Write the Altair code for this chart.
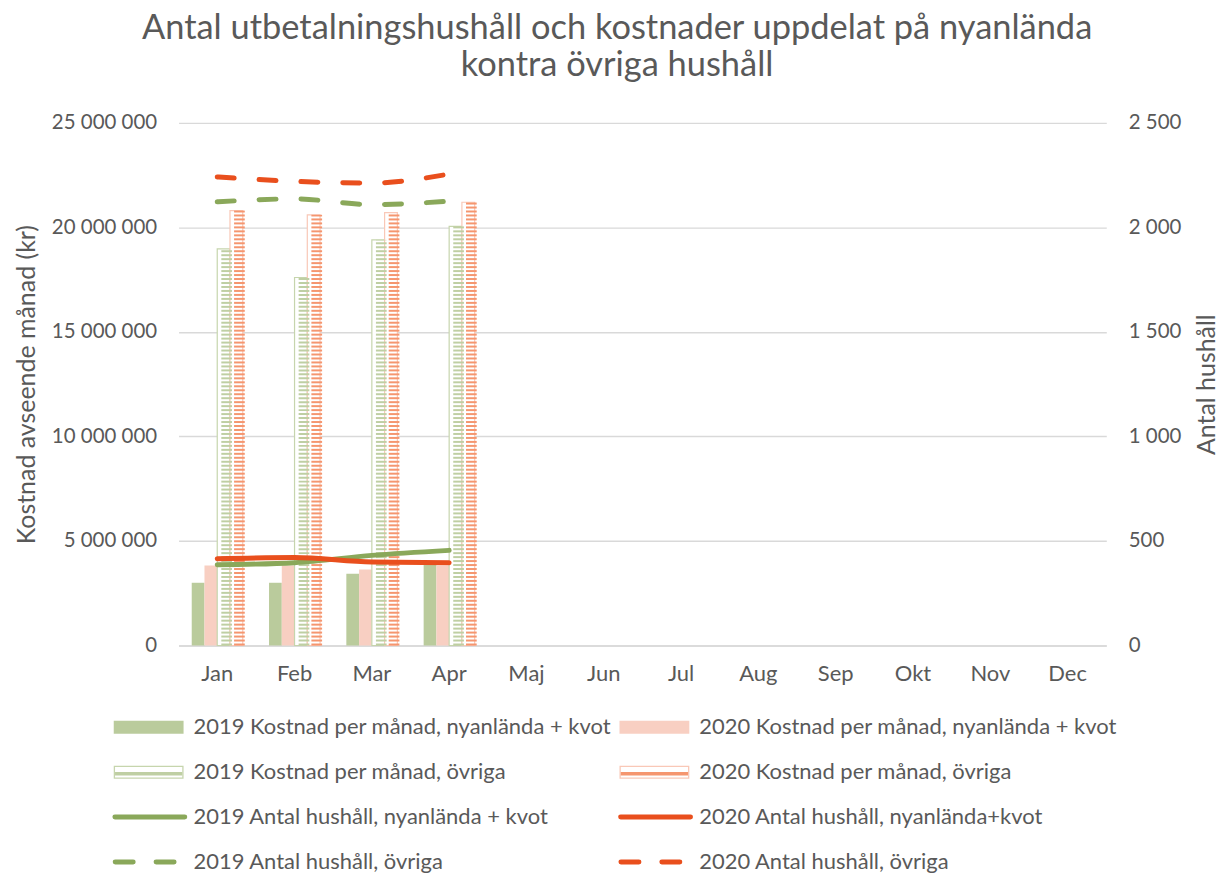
import altair as alt
import pandas as pd

months = ["Jan", "Feb", "Mar", "Apr", "Maj", "Jun", "Jul", "Aug", "Sep", "Okt", "Nov", "Dec"]
data_months = ["Jan", "Feb", "Mar", "Apr"]

cost_2019_ny = [3000000, 3000000, 3430000, 3850000]
cost_2020_ny = [3820000, 3830000, 3630000, 3820000]
cost_2019_ov = [18970000, 17600000, 19400000, 20050000]
cost_2020_ov = [20800000, 20600000, 20700000, 21200000]

hh_2019_ny = [386, 396, 431, 455]
hh_2020_ny = [415, 421, 399, 396]
hh_2019_ov = [2122, 2136, 2109, 2125]
hh_2020_ov = [2241, 2220, 2212, 2255]

bar_series = [
    "2019 Kostnad per månad, nyanlända + kvot",
    "2020 Kostnad per månad, nyanlända + kvot",
    "2019 Kostnad per månad, övriga",
    "2020 Kostnad per månad, övriga",
]
line_series = [
    "2019 Antal hushåll, nyanlända + kvot",
    "2020 Antal hushåll, nyanlända+kvot",
    "2019 Antal hushåll, övriga",
    "2020 Antal hushåll, övriga",
]

TXT = "#595959"
FONT = "Lato"
GREEN_SOLID = "#bacb9c"
PINK_SOLID = "#f8cfc2"
GREEN_STRIPE = "#bfcfa3"
GREEN_BORDER = "#c6d5ad"
ORANGE_STRIPE = "#f5966f"
ORANGE_BORDER = "#f9c8b7"
GREEN_LINE = "#8aa85a"
ORANGE_LINE = "#e94f1d"

# ---------- tables ----------
solid_rows = []
for m, a, b in zip(data_months, cost_2019_ny, cost_2020_ny):
    solid_rows.append({"month": m, "series": bar_series[0], "value": a})
    solid_rows.append({"month": m, "series": bar_series[1], "value": b})
solid_df = pd.DataFrame(solid_rows)

hatch_rows = []
for m, a, b in zip(data_months, cost_2019_ov, cost_2020_ov):
    hatch_rows.append({"month": m, "series": bar_series[2], "value": a})
    hatch_rows.append({"month": m, "series": bar_series[3], "value": b})
hatch_df = pd.DataFrame(hatch_rows)

line_rows = []
for i, m in enumerate(data_months):
    line_rows.append({"month": m, "series": line_series[0], "value": hh_2019_ny[i], "dash": "solid"})
    line_rows.append({"month": m, "series": line_series[1], "value": hh_2020_ny[i], "dash": "solid"})
    line_rows.append({"month": m, "series": line_series[2], "value": hh_2019_ov[i], "dash": "dash"})
    line_rows.append({"month": m, "series": line_series[3], "value": hh_2020_ov[i], "dash": "dash"})
line_df = pd.DataFrame(line_rows)

# ---------- main chart ----------
x_enc = alt.X(
    "month:N",
    sort=months,
    scale=alt.Scale(domain=months, paddingInner=0.34, paddingOuter=0.17),
    axis=alt.Axis(
        title=None, labelAngle=0, ticks=False, domainColor="#d9d9d9", domainWidth=1.5,
        labelPadding=18, labelFontSize=22, labelColor=TXT, labelFont=FONT,
    ),
)
xoff = alt.XOffset("series:N", sort=bar_series, scale=alt.Scale(domain=bar_series))

left_axis = alt.Axis(
    title="Kostnad avseende månad (kr)",
    values=[0, 5000000, 10000000, 15000000, 20000000, 25000000],
    labelExpr="replace(format(datum.value, ','), regexp(',', 'g'), ' ')",
    grid=True, gridColor="#d9d9d9", gridWidth=1.3, domain=False, ticks=False,
    labelPadding=22, labelFontSize=20.5, labelColor=TXT, labelFont=FONT,
    titleFontSize=25, titleColor=TXT, titleFont=FONT, titleFontWeight="normal", titlePadding=12,
)
left_scale = alt.Scale(domain=[0, 25000000], nice=False)

solid_bars = alt.Chart(solid_df).mark_bar().encode(
    x=x_enc, xOffset=xoff,
    y=alt.Y("value:Q", scale=left_scale, axis=left_axis, title="Kostnad avseende månad (kr)"),
    color=alt.Color("series:N", scale=alt.Scale(domain=bar_series[:2], range=[GREEN_SOLID, PINK_SOLID]), legend=None),
)

hatch_bg = alt.Chart(hatch_df).mark_bar(fill="white", strokeWidth=1.2).encode(
    x=x_enc, xOffset=xoff,
    y=alt.Y("value:Q", scale=left_scale, axis=left_axis, title="Kostnad avseende månad (kr)"),
    stroke=alt.Stroke("series:N", scale=alt.Scale(domain=bar_series[2:], range=[GREEN_BORDER, ORANGE_BORDER]), legend=None),
)

stripes = alt.Chart(hatch_df).transform_calculate(
    s="sequence(0, datum.value, 190000)"
).transform_flatten(["s"]).transform_calculate(
    e="min(datum.s + 95000, datum.value)"
).mark_bar(width={"band": 0.84}).encode(
    x=x_enc, xOffset=xoff,
    y=alt.Y("s:Q", scale=left_scale, axis=left_axis, title="Kostnad avseende månad (kr)"),
    y2="e:Q",
    color=alt.Color("series:N", scale=alt.Scale(domain=bar_series[2:], range=[GREEN_STRIPE, ORANGE_STRIPE]), legend=None),
)

bars = alt.layer(solid_bars, hatch_bg, stripes).resolve_scale(color="independent", stroke="independent")

right_axis = alt.Axis(
    orient="right", title="Antal hushåll",
    values=[0, 500, 1000, 1500, 2000, 2500],
    labelExpr="replace(format(datum.value, ','), regexp(',', 'g'), ' ')",
    grid=False, domain=False, ticks=False,
    labelPadding=22, labelFontSize=20.5, labelColor=TXT, labelFont=FONT,
    titleFontSize=25, titleColor=TXT, titleFont=FONT, titleFontWeight="normal",
    titleAngle=270, titleBaseline="top", titlePadding=14,
)
right_scale = alt.Scale(domain=[0, 2500], nice=False)
line_color = alt.Color("series:N", scale=alt.Scale(domain=line_series, range=[GREEN_LINE, ORANGE_LINE, GREEN_LINE, ORANGE_LINE]), legend=None)

solid_lines = alt.Chart(line_df).transform_filter("datum.dash == 'solid'").mark_line(
    strokeWidth=5, strokeCap="round", interpolate="monotone"
).encode(
    x=x_enc,
    y=alt.Y("value:Q", scale=right_scale, axis=right_axis, title="Antal hushåll"),
    color=line_color,
    detail="series:N",
)
dash_lines = alt.Chart(line_df).transform_filter("datum.dash == 'dash'").mark_line(
    strokeWidth=5, strokeCap="round", strokeDash=[17, 25], interpolate="monotone"
).encode(
    x=x_enc,
    y=alt.Y("value:Q", scale=right_scale, axis=right_axis, title="Antal hushåll"),
    color=line_color,
    detail="series:N",
)
lines = alt.layer(solid_lines, dash_lines)

main = alt.layer(bars, lines).resolve_scale(y="independent", color="independent").properties(
    width=930, height=524
)

# ---------- legend ----------
leg_labels = [bar_series[0], bar_series[1], bar_series[2], bar_series[3],
              line_series[0], line_series[1], line_series[2], line_series[3]]
leg_kind = ["solid", "solid", "hatch", "hatch", "line", "line", "dash", "dash"]
leg_col = [0, 1, 0, 1, 0, 1, 0, 1]
leg_row = [0, 0, 1, 1, 2, 2, 3, 3]
leg_fill = [GREEN_SOLID, PINK_SOLID, GREEN_BORDER, ORANGE_BORDER, GREEN_LINE, ORANGE_LINE, GREEN_LINE, ORANGE_LINE]
leg_stripe = ["", "", GREEN_STRIPE, ORANGE_STRIPE, "", "", "", ""]
leg_df = pd.DataFrame({"label": leg_labels, "kind": leg_kind, "col": leg_col, "row": leg_row,
                       "fill": leg_fill, "stripe": leg_stripe})

lx = alt.X("col:Q", scale=alt.Scale(domain=[0, 1], range=[-65, 442]), axis=None)
lx2 = alt.X2("col:Q")
ly = alt.Y("row:Q", scale=alt.Scale(domain=[0, 3], range=[0, 135]), axis=None)

leg_base = alt.Chart(leg_df)
leg_solid = leg_base.transform_filter("datum.kind == 'solid'").mark_rule(
    strokeWidth=13, strokeCap="butt", xOffset=0, x2Offset=70
).encode(x=lx, x2=lx2, y=ly, color=alt.Color("fill:N", scale=None))
leg_hatch_o = leg_base.transform_filter("datum.kind == 'hatch'").mark_rule(
    strokeWidth=13, strokeCap="butt", xOffset=0, x2Offset=70
).encode(x=lx, x2=lx2, y=ly, color=alt.Color("fill:N", scale=None))
leg_hatch_i = leg_base.transform_filter("datum.kind == 'hatch'").mark_rule(
    strokeWidth=10.5, strokeCap="butt", xOffset=1.3, x2Offset=68.7, color="white"
).encode(x=lx, x2=lx2, y=ly)
leg_hatch_s = leg_base.transform_filter("datum.kind == 'hatch'").mark_rule(
    strokeWidth=3.5, strokeCap="butt", xOffset=1.3, x2Offset=68.7, yOffset=1.5
).encode(x=lx, x2=lx2, y=ly, color=alt.Color("stripe:N", scale=None))
leg_line = leg_base.transform_filter("datum.kind == 'line'").mark_rule(
    strokeWidth=5, strokeCap="round", xOffset=1.2, x2Offset=71.2
).encode(x=lx, x2=lx2, y=ly, color=alt.Color("fill:N", scale=None))
leg_dash = leg_base.transform_filter("datum.kind == 'dash'").mark_rule(
    strokeWidth=5, strokeCap="round", strokeDash=[18, 23], xOffset=1.5, x2Offset=61
).encode(x=lx, x2=lx2, y=ly, color=alt.Color("fill:N", scale=None))
leg_text = leg_base.mark_text(
    align="left", baseline="middle", dx=80, fontSize=22, font=FONT, color=TXT
).encode(x=lx, y=ly, text="label:N")

legend = alt.layer(leg_solid, leg_hatch_o, leg_hatch_i, leg_hatch_s, leg_line, leg_dash, leg_text).properties(
    width=900, height=135
)

chart = alt.vconcat(
    main, legend, spacing=32,
    title=alt.TitleParams(
        ["Antal utbetalningshushåll och kostnader uppdelat på nyanlända", "kontra övriga hushåll"],
        fontSize=34.5, font=FONT, fontWeight="normal", color=TXT, anchor="middle",
        lineHeight=37, offset=29,
    ),
).properties(
    padding={"left": 6, "top": 2, "right": 0, "bottom": 0}
).configure_view(stroke=None).configure_concat(spacing=32)

chart.save("out.html", embed_options={"renderer": "svg", "actions": False})
